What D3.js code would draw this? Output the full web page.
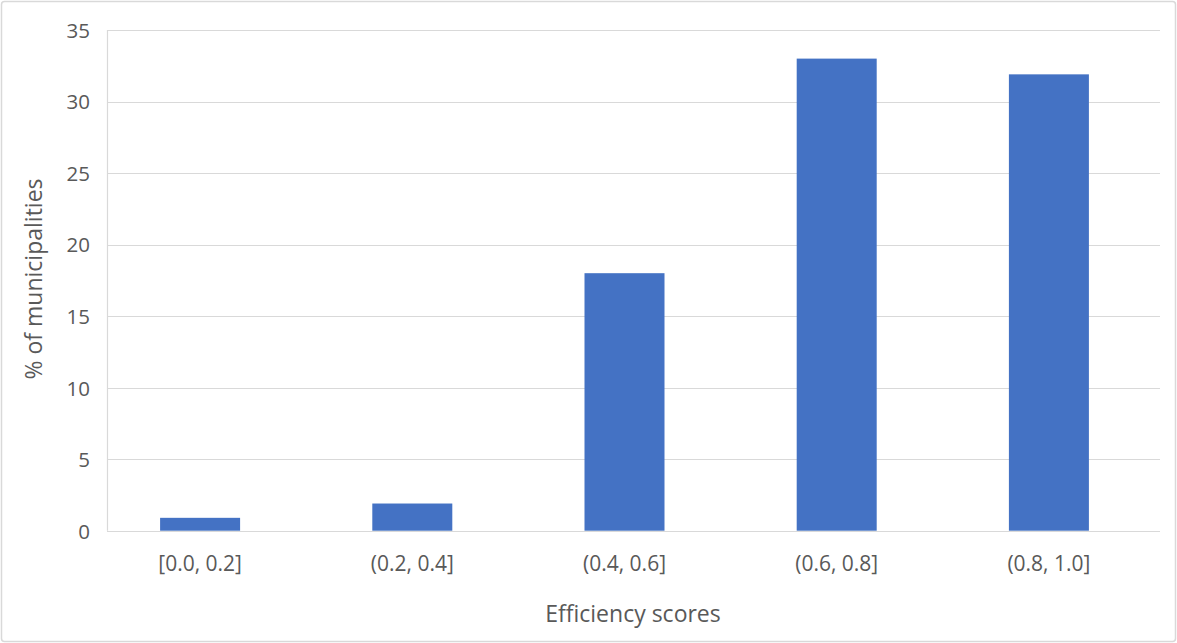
<!DOCTYPE html>
<html>
<head>
<meta charset="utf-8">
<script src="https://cdn.jsdelivr.net/npm/d3@7"></script>
<style>
  html, body { margin: 0; padding: 0; background: #fff; }
  svg { display: block; }
  text { font-family: "Open Sans", "Noto Sans", sans-serif; fill: #595959; }
</style>
</head>
<body>
<svg id="chart" width="1177" height="643"></svg>
<script>
// Share of municipalities per efficiency-score bin
const categories = ["[0.0, 0.2]", "(0.2, 0.4]", "(0.4, 0.6]", "(0.6, 0.8]", "(0.8, 1.0]"];
const percentages = [0.9, 1.9, 18.0, 33.0, 31.9];
const yTicks = [0, 5, 10, 15, 20, 25, 30, 35];
const xTitle = "Efficiency scores";
const yTitle = "% of municipalities";

const svg = d3.select("#chart");
const W = 1177, H = 643;

// outer frame
svg.append("rect")
  .attr("x", 1.5).attr("y", 1.5)
  .attr("width", W - 3).attr("height", H - 3)
  .attr("rx", 3)
  .attr("fill", "#fff")
  .attr("stroke", "#d9d9d9")
  .attr("stroke-width", 1.5);

const plot = { left: 107, right: 1160, top: 30, bottom: 530.7 };

const y = d3.scaleLinear().domain([0, 35]).range([plot.bottom, plot.top]);
const x = d3.scaleBand()
  .domain(categories)
  .range([94, 1155])
  .paddingInner(0.623)
  .paddingOuter(0.3115);

// horizontal gridlines
svg.append("g")
  .selectAll("line")
  .data(yTicks)
  .join("line")
  .attr("x1", plot.left).attr("x2", plot.right)
  .attr("y1", d => Math.round(y(d)) + 0.5)
  .attr("y2", d => Math.round(y(d)) + 0.5)
  .attr("stroke", "#d9d9d9")
  .attr("stroke-width", 1.2);

// left value-axis line
svg.append("line")
  .attr("x1", plot.left + 0.5).attr("x2", plot.left + 0.5)
  .attr("y1", plot.top).attr("y2", plot.bottom)
  .attr("stroke", "#d9d9d9")
  .attr("stroke-width", 1.2);

// bars
svg.append("g")
  .selectAll("rect")
  .data(categories.map((c, i) => ({ c, v: percentages[i] })))
  .join("rect")
  .attr("x", d => x(d.c))
  .attr("width", x.bandwidth())
  .attr("y", d => y(d.v))
  .attr("height", d => y(0) - y(d.v))
  .attr("fill", "#4472c4");

// y tick labels
const yAxis = d3.axisLeft(y).tickValues(yTicks).tickSize(0).tickPadding(0);
const gy = svg.append("g")
  .attr("transform", `translate(90,0)`)
  .call(yAxis);
gy.select(".domain").remove();
gy.selectAll("text")
  .attr("font-size", 20.5)
  .attr("fill", "#595959")
  .attr("dy", "0.36em")
  .style("font-family", '"Open Sans", "Noto Sans", sans-serif');

// x tick labels
const xAxis = d3.axisBottom(x).tickSize(0).tickPadding(0);
const gx = svg.append("g")
  .attr("transform", `translate(0,571)`)
  .call(xAxis);
gx.select(".domain").remove();
gx.selectAll("text")
  .attr("font-size", 21)
  .attr("fill", "#595959")
  .attr("dy", 0)
  .attr("y", 0)
  .style("font-family", '"Open Sans", "Noto Sans", sans-serif');

// axis titles
svg.append("text")
  .attr("x", 633).attr("y", 622)
  .attr("text-anchor", "middle")
  .attr("font-size", 23)
  .text(xTitle);

svg.append("text")
  .attr("transform", "translate(42,279) rotate(-90)")
  .attr("text-anchor", "middle")
  .attr("font-size", 23)
  .text(yTitle);
</script>
</body>
</html>
